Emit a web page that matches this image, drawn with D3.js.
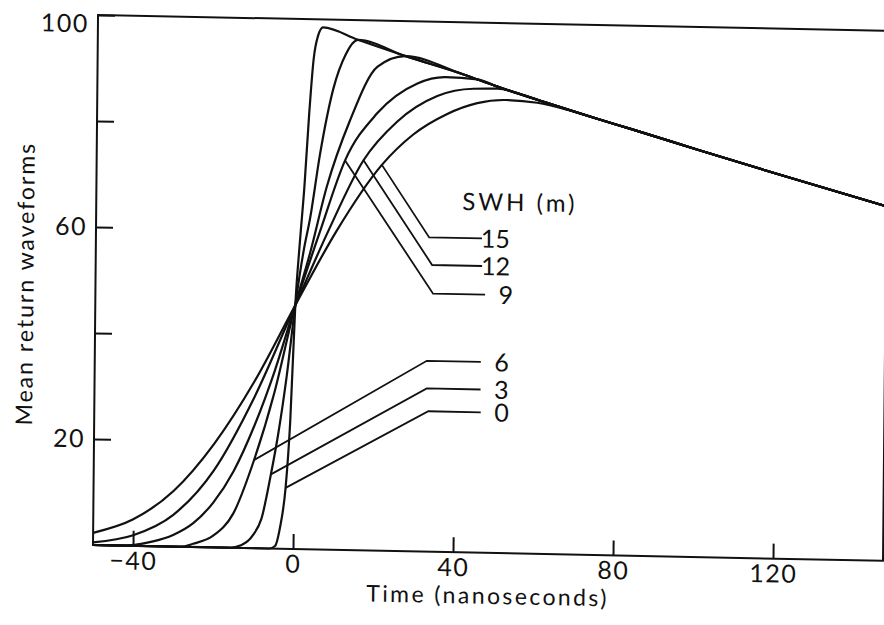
<!DOCTYPE html>
<html>
<head>
<meta charset="utf-8">
<title>Mean return waveforms</title>
<style>
  body { margin: 0; background: #fff; }
  text { font-family: Lato, "DejaVu Sans", sans-serif; font-weight: 400; fill: #111; }
</style>
<script src="https://d3js.org/d3.v7.min.js"></script>
</head>
<body>
<script>
// tick values / labels
var xTicks = [-40, 0, 40, 80, 120];
var yTicks = [20, 40, 60, 80, 100];
var yLabelled = [20, 60, 100];

// common decaying tail after the peaks [time ns, mean return]
var envelope = [[15,96.3],[27,93.4],[41,90.3],[50,88.0],[62,85.2],[75,82.3],[84,80.4],[100,76.9],[120,72.6],[147.5,66.9]];

// rising part of each waveform
var wave0  = [[-50,0],[-6,0],[-4.5,0.5],[-3.3,4],[-2,11.5],[-1,24],[0,46],[1,58],[2,68.5],[3,82],[4,92.5],[5,96.8],[6.3,98.5]];
var wave3  = [[-50,0],[-16,0],[-13,0.5],[-10,2.5],[-8,5.5],[-5.7,14],[-4,21.5],[-2,32.5],[0,46],[2,56.5],[3.5,62.5],[5.8,74.5],[9,87],[12,93.5],[15,96.3]];
var wave6  = [[-50,0],[-28,0],[-25,0.6],[-20,2.2],[-15,6.5],[-10,16.5],[-5,29.5],[0,46],[3.6,56],[7.6,68.5],[13.2,81],[20,91.3],[27,93.4]];
var wave9  = [[-50,0],[-42,0],[-38,0.4],[-35,0.9],[-30,2.2],[-25,4.5],[-20,8.5],[-15,14.5],[-10,23],[-5,33.5],[0,46],[6,60],[12.1,73.5],[20,82.5],[30,88.3],[37,89.6],[45,89.3]];
var wave12 = [[-50,0.5],[-40,2],[-30,6],[-20,14.5],[-10,28.5],[0,46],[8,60],[16.7,73.6],[25,81],[35,86],[44,87.5],[50,87.6],[57,86.4]];
var wave15 = [[-50,2.3],[-40,5],[-30,10.5],[-20,19.5],[-10,31.5],[0,46],[10,60],[21.3,72.8],[29,78.6],[37.4,82.6],[45,84.8],[52,85.5],[60,85.1],[68,83.8],[75,82.3]];

// SWH labels and their leader lines
var swhLabels = ['15', '12', '9', '6', '3', '0'];
var leaders = [
    [[21.3,72.8],[33.3,59.3],[46.5,59.3]],
    [[16.7,73.6],[34.1,54.1],[46.6,54.1]],
    [[12.1,73.5],[34.4,48.7],[47.4,48.7]],
    [[-10,16.6],[33.0,36.0],[46.5,36.0]],
    [[-5.7,14],[33.05,30.8],[46.5,30.8]],
    [[-2,11.5],[33.5,26.5],[46.6,26.5]]
];

var svg = d3.select('body')
    .append('svg')
    .attr('width', 884)
    .attr('height', 625);

var x = d3.scaleLinear().domain([-50, 147.5]).range([93, 883]);
var y = d3.scaleLinear().domain([0, 100]).range([545, 15]);

// the scanned figure is slightly skewed
var g = svg.append('g')
    .attr('transform', 'translate(93,545) matrix(1,0.02,-0.0095,1,0,0) translate(-93,-545)');

// frame
g.append('rect')
    .attr('x', x(-50)).attr('y', y(100))
    .attr('width', x(147.5) - x(-50)).attr('height', y(0) - y(100))
    .attr('fill', 'none').attr('stroke', '#111').attr('stroke-width', 2);

var xAxis = g.append('g')
    .attr('transform', 'translate(0,' + y(0) + ')')
    .call(d3.axisBottom(x).tickValues(xTicks).tickSize(-15).tickPadding(6));
var yAxis = g.append('g')
    .attr('transform', 'translate(' + x(-50) + ',0)')
    .call(d3.axisLeft(y).tickValues(yTicks).tickSize(-17).tickPadding(9)
        .tickFormat(function(d) { return yLabelled.indexOf(d) >= 0 ? d : ''; }));

[xAxis, yAxis].forEach(function(a) {
    a.select('.domain').remove();
    a.selectAll('line').attr('stroke', '#111').attr('stroke-width', 2);
    a.selectAll('text').style('font-size', '25px').attr('fill', '#111')
        .style('letter-spacing', '1.5px')
        .style('font-family', 'Lato, "DejaVu Sans", sans-serif');
});
// "100" sits just under the top corner
yAxis.selectAll('.tick text').filter(function(d) { return d === 100; }).attr('dy', '0.68em');

// waveforms: each rises then rides on the common tail
var line = d3.line()
    .x(function(d) { return x(d[0]); })
    .y(function(d) { return y(d[1]); })
    .curve(d3.curveMonotoneX);

var waves = [wave0, wave3, wave6, wave9, wave12, wave15].map(function(w) {
    var last = w[w.length - 1][0];
    return w.concat(envelope.filter(function(p) { return p[0] > last; }));
});

g.selectAll('path.wave')
    .data(waves)
    .enter()
    .append('path')
    .attr('class', 'wave')
    .attr('d', line)
    .attr('fill', 'none')
    .attr('stroke', '#111')
    .attr('stroke-width', 2.2)
    .attr('stroke-linejoin', 'round');

// leaders
var straight = d3.line()
    .x(function(d) { return x(d[0]); })
    .y(function(d) { return y(d[1]); });

g.selectAll('path.leader')
    .data(leaders)
    .enter()
    .append('path')
    .attr('class', 'leader')
    .attr('d', straight)
    .attr('fill', 'none')
    .attr('stroke', '#111')
    .attr('stroke-width', 1.8);

g.selectAll('text.swh')
    .data(leaders)
    .enter()
    .append('text')
    .attr('class', 'swh')
    .attr('x', function(d) { return x(d[2][0]) + 28; })
    .attr('y', function(d) { return y(d[2][1]); })
    .attr('dy', '0.36em')
    .attr('text-anchor', 'end')
    .style('font-size', '25px')
    .text(function(d, i) { return swhLabels[i]; });

g.append('text')
    .attr('x', x(41.5))
    .attr('y', y(64.6))
    .style('font-size', '24px')
    .style('letter-spacing', '3px')
    .text('SWH (m)');

// axis titles
g.append('text')
    .attr('x', 488)
    .attr('y', y(0) + 51)
    .attr('text-anchor', 'middle')
    .style('font-size', '23px')
    .style('letter-spacing', '2.4px')
    .text('Time (nanoseconds)');

g.append('text')
    .attr('transform', 'translate(31,285) rotate(-90)')
    .attr('text-anchor', 'middle')
    .style('font-size', '23px')
    .style('letter-spacing', '2px')
    .text('Mean return waveforms');
</script>
</body>
</html>
